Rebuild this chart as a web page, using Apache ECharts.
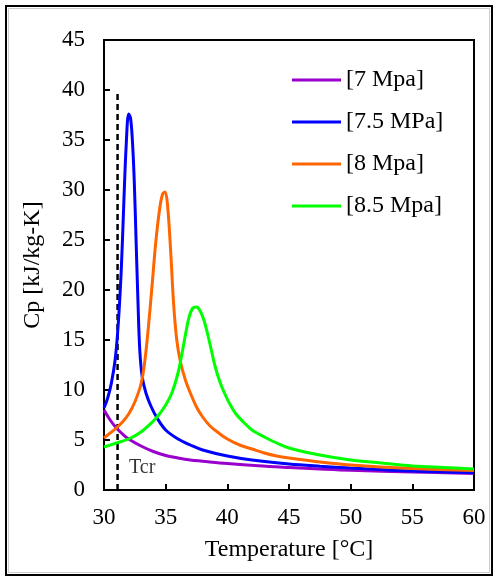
<!DOCTYPE html>
<html>
<head>
<meta charset="utf-8">
<script src="https://cdn.jsdelivr.net/npm/echarts@6/dist/echarts.min.js"></script>
<style>html,body{margin:0;padding:0;background:#fff}#c{width:497px;height:577px}</style>
</head>
<body>
<div id="c"></div>
<script>
var seriesNames = ['[7 Mpa]', '[7.5 MPa]', '[8 Mpa]', '[8.5 Mpa]'];
var xTicks = [30, 35, 40, 45, 50, 55, 60];
var yTicks = [0, 5, 10, 15, 20, 25, 30, 35, 40, 45];

var cp7 = [[30,8.0],[30.5,7.0],[31,6.2],[31.5,5.6],[32,5.1],[33,4.4],[34,3.85],[35,3.45],[36,3.2],[37,3.0],[38,2.88],[40,2.65],[42.5,2.42],[45,2.25],[47.5,2.1],[50,1.97],[55,1.8],[60,1.65]];
var cp75 = [[30,8.2],[30.3,9.2],[30.6,10.7],[30.9,13],[31.15,16.5],[31.4,22],[31.6,28.5],[31.8,34.5],[32.0,37.6],[32.15,37.2],[32.3,35],[32.45,31],[32.6,25],[32.75,19],[32.9,14],[33.1,11.3],[33.4,9.7],[33.8,8.4],[34.3,7.2],[35,6.0],[36,5.1],[37,4.5],[38,4.0],[40,3.4],[42,3.0],[45,2.6],[47.5,2.38],[50,2.2],[55,1.9],[60,1.75]];
var cp8 = [[30,5.2],[30.5,5.7],[31,6.2],[31.5,6.8],[32,7.6],[32.5,8.8],[33,10.6],[33.3,12.8],[33.6,16.3],[33.9,20.5],[34.2,24.8],[34.5,28.0],[34.75,29.6],[34.95,29.8],[35.15,28.5],[35.4,24],[35.65,18.5],[35.9,15],[36.2,12.8],[36.6,11],[37,9.7],[37.5,8.3],[38,7.3],[38.6,6.4],[39.3,5.7],[40,5.1],[41,4.5],[42,4.1],[43,3.7],[44,3.4],[45,3.2],[47.5,2.8],[50,2.5],[55,2.15],[60,1.95]];
var cp85 = [[30,4.3],[31,4.7],[32,5.1],[33,5.8],[34,6.9],[34.5,7.6],[35,8.5],[35.5,9.7],[36,11.7],[36.3,13.5],[36.6,15.5],[36.9,17.3],[37.2,18.2],[37.5,18.3],[37.8,17.9],[38.1,17.0],[38.4,15.6],[38.7,14.0],[39.0,12.4],[39.4,10.8],[39.8,9.6],[40.2,8.6],[40.7,7.6],[41.3,6.8],[42,6.0],[43,5.3],[44,4.7],[45,4.2],[47.5,3.5],[50,3.0],[52.5,2.7],[55,2.4],[57.5,2.25],[60,2.1]];
var tcrLine = [[31.1,0],[31.1,40]];
var tcrLabel = [[33.1,2.2]];

var colors = ['#9900CC', '#0000FF', '#FF6600', '#00FF00'];
var dataSets = [cp7, cp75, cp8, cp85];
var font = 'Liberation Serif';

var series = dataSets.map(function (d, i) {
  return {
    name: seriesNames[i], type: 'line', data: d, smooth: 0.35, symbol: 'none',
    lineStyle: { color: colors[i], width: 3 }, itemStyle: { color: colors[i] },
    z: 3 + i
  };
});
series.unshift({
  type: 'line', data: tcrLine, symbol: 'none', silent: true,
  lineStyle: { color: '#000', width: 2.5, type: [6, 4] }, z: 2
});
series.push({
  type: 'scatter', data: tcrLabel, symbolSize: 0, silent: true,
  label: { show: true, formatter: 'Tcr', position: 'inside', color: '#000', fontFamily: font, fontSize: 20 }
});

var chart = echarts.init(document.getElementById('c'), null, { renderer: 'canvas' });
chart.setOption({
  animation: false,
  backgroundColor: '#fff',
  grid: { left: 104, top: 40, right: 23, bottom: 87, show: true, borderColor: '#000', borderWidth: 2, backgroundColor: 'transparent' },
  legend: {
    data: seriesNames, orient: 'vertical', left: 292, top: 68, padding: 0,
    icon: 'rect', itemWidth: 49, itemHeight: 3, itemGap: 18,
    textStyle: { fontFamily: font, fontSize: 24, color: '#000', lineHeight: 24 }
  },
  xAxis: {
    type: 'value', min: xTicks[0], max: xTicks[xTicks.length - 1], interval: 5,
    name: 'Temperature [°C]', nameLocation: 'middle', nameGap: 48,
    nameTextStyle: { fontFamily: font, fontSize: 24, color: '#000' },
    axisLine: { show: true, lineStyle: { color: '#000', width: 2 } },
    axisTick: { show: true, inside: true, length: 6, lineStyle: { color: '#000', width: 2 } },
    axisLabel: { fontFamily: font, fontSize: 23, color: '#000', margin: 16 },
    splitLine: { show: false }
  },
  yAxis: {
    type: 'value', min: yTicks[0], max: yTicks[yTicks.length - 1], interval: 5,
    name: 'Cp [kJ/kg-K]', nameLocation: 'middle', nameGap: 59,
    nameTextStyle: { fontFamily: font, fontSize: 24, color: '#000' },
    axisLine: { show: true, lineStyle: { color: '#000', width: 2 } },
    axisTick: { show: true, inside: true, length: 6, lineStyle: { color: '#000', width: 2 } },
    axisLabel: { fontFamily: font, fontSize: 23, color: '#000', margin: 19 },
    splitLine: { show: false }
  },
  graphic: [{
    type: 'rect', shape: { x: 6, y: 6, width: 486, height: 569 },
    style: { fill: 'none', stroke: '#000', lineWidth: 2 }, silent: true
  }, {
    type: 'rect', shape: { x: 8.5, y: 8.5, width: 481, height: 564 },
    style: { fill: 'none', stroke: '#ccc', lineWidth: 1 }, silent: true
  }],
  series: series
});
</script>
</body>
</html>
